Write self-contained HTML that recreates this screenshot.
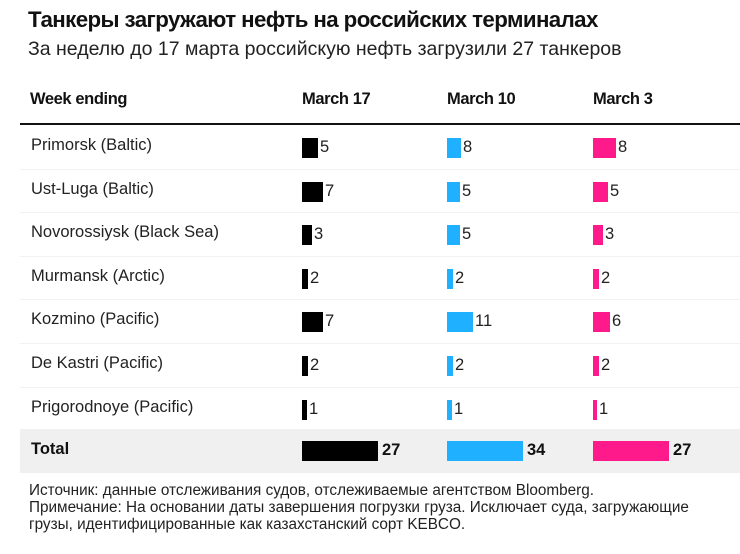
<!DOCTYPE html>
<html><head><meta charset="utf-8"><style>
body{margin:0;width:740px;height:554px;background:#fff;font-family:"Liberation Sans","Noto Sans CJK SC",sans-serif;color:#111;position:relative;overflow:hidden}
.a{position:absolute;white-space:nowrap}
.t{left:28px;top:7px;font-size:22.3px;font-weight:bold;letter-spacing:-0.6px}
.s{left:28px;top:38px;font-size:19.5px;color:#222;letter-spacing:0px}
.h{font-size:16.5px;font-weight:bold;top:90px;letter-spacing:-0.4px}
.lbl{left:31px;font-size:16.5px;color:#222}
.b{position:absolute;height:20px}
.n{position:absolute;font-size:16.5px;color:#222}
.f{left:29px;font-size:15.3px;color:#222;letter-spacing:0px}
</style></head><body>
<div class="a t">Танкеры загружают нефть на российских терминалах</div>
<div class="a s">За неделю до 17 марта российскую нефть загрузили 27 танкеров</div>
<div class="a h" style="left:30px">Week ending</div>
<div class="a h" style="left:302px">March 17</div>
<div class="a h" style="left:447px">March 10</div>
<div class="a h" style="left:593px">March 3</div>
<div class="a" style="left:20px;top:123px;width:720px;height:2px;background:#111"></div>
<div class="a" style="left:20px;top:429px;width:720px;height:44px;background:#f0f0f0"></div>
<div id="rows"></div>
<div class="a f" style="top:482px">Источник: данные отслеживания судов, отслеживаемые агентством Bloomberg.</div>
<div class="a f" style="top:499px">Примечание: На основании даты завершения погрузки груза. Исключает суда, загружающие</div>
<div class="a f" style="top:516px">грузы, идентифицированные как казахстанский сорт KEBCO.</div>
<script>
var rows=[["Primorsk (Baltic)",[5,16],[8,14],[8,23]],
["Ust-Luga (Baltic)",[7,21],[5,13],[5,15]],
["Novorossiysk (Black Sea)",[3,10],[5,13],[3,10]],
["Murmansk (Arctic)",[2,6],[2,6],[2,6]],
["Kozmino (Pacific)",[7,21],[11,26],[6,17]],
["De Kastri (Pacific)",[2,6],[2,6],[2,6]],
["Prigorodnoye (Pacific)",[1,5],[1,5],[1,4]]];
var xs=[302,447,593],cols=["#000","#1fb0ff","#ff1a8c"],h="";
rows.forEach(function(r,i){var c=147+i*43.6;
h+='<div class="a lbl" style="top:'+(c-11)+'px">'+r[0]+'</div>';
if(i>0)h+='<div class="a" style="left:20px;top:'+(c-22)+'px;width:720px;height:1px;background:#f2f2f2"></div>';
for(var k=0;k<3;k++){h+='<div class="b" style="left:'+xs[k]+'px;top:'+(c-9)+'px;width:'+r[k+1][1]+'px;background:'+cols[k]+'"></div>';
h+='<div class="n" style="left:'+(xs[k]+r[k+1][1]+2)+'px;top:'+(c-9)+'px">'+r[k+1][0]+'</div>';}});
var c=451;h+='<div class="a lbl" style="top:'+(c-11)+'px;font-weight:bold;color:#111">Total</div>';
var t=[27,34,27];for(var k=0;k<3;k++){h+='<div class="b" style="left:'+xs[k]+'px;top:'+(c-10)+'px;width:76px;background:'+cols[k]+'"></div>';
h+='<div class="n" style="left:'+(xs[k]+80)+'px;top:'+(c-10)+'px;font-weight:bold;color:#111">'+t[k]+'</div>';}
document.getElementById("rows").innerHTML=h;
</script>
</body></html>
